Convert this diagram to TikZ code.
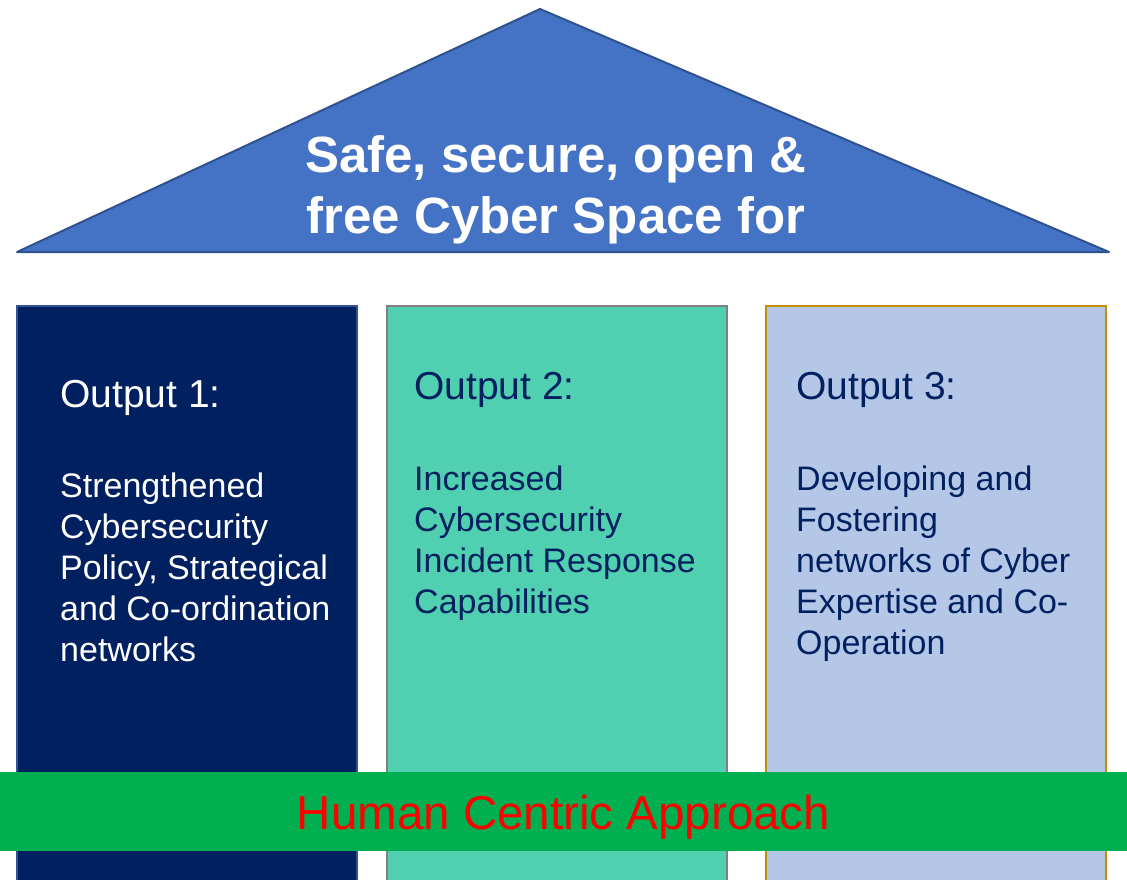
\documentclass[tikz,border=0pt]{standalone}
\usepackage{fontspec}
\setmainfont{Liberation Sans}
\definecolor{roofblue}{HTML}{4472C4}
\definecolor{roofedge}{HTML}{2F528F}
\definecolor{navy}{HTML}{002060}
\definecolor{navyedge}{HTML}{2F5597}
\definecolor{teal}{HTML}{50D0B0}
\definecolor{tealedge}{HTML}{7F7F7F}
\definecolor{lightblue}{HTML}{B4C7E7}
\definecolor{goldedge}{HTML}{BF9000}
\definecolor{barGreen}{HTML}{00B050}
\definecolor{barRed}{HTML}{FF0000}
\begin{document}
\begin{tikzpicture}[x=1pt,y=-1pt,
  pillar/.style={draw, line width=2pt, anchor=north west, inner sep=0pt,
    minimum width=340pt, minimum height=600pt},
  heading/.style={anchor=base west, inner sep=0pt,
    font=\fontsize{39}{45}\selectfont},
  body/.style={anchor=base west, inner sep=0pt},
]
\useasboundingbox (0,0) rectangle (1127,880);
\clip (0,0) rectangle (1127,880);

% roof
\draw[fill=roofblue, draw=roofedge, line width=2pt, line join=round]
  (540,9) -- (1109,252) -- (17,252) -- cycle;
\node[anchor=base, inner sep=0pt, text=white] (roof) at (556,172)
  {\parbox[t]{700pt}{\centering\fontsize{51}{61}\selectfont\bfseries
   Safe, secure, open \&\\free Cyber Space for}};

% pillars
\node[pillar, fill=navy, draw=navyedge] (p1) at (16,305) {};
\node[pillar, fill=teal, draw=tealedge] (p2) at (386,305) {};
\node[pillar, fill=lightblue, draw=goldedge] (p3) at (765,305) {};

% pillar texts
\node[heading, text=white] (h1) at (60,407) {Output 1:};
\node[body, text=white] (t1) at (60,497)
  {\parbox[t]{300pt}{\fontsize{34}{41}\selectfont\raggedright
   Strengthened\\Cybersecurity\\Policy, Strategical\\and Co-ordination\\networks}};

\node[heading, text=navy] (h2) at (414,399) {Output 2:};
\node[body, text=navy] (t2) at (414,490)
  {\parbox[t]{300pt}{\fontsize{34}{41}\selectfont\raggedright
   Increased\\Cybersecurity\\Incident Response\\Capabilities}};

\node[heading, text=navy] (h3) at (796,399) {Output 3:};
\node[body, text=navy] (t3) at (796,490)
  {\parbox[t]{300pt}{\fontsize{34}{41}\selectfont\raggedright
   Developing and\\Fostering\\networks of Cyber\\Expertise and Co-\\Operation}};

% foundation bar
\node[fill=barGreen, anchor=north west, inner sep=0pt,
  minimum width=1127pt, minimum height=79pt] (bar) at (0,772) {};
\node[anchor=base, inner sep=0pt, text=barRed,
  font=\fontsize{47.5}{55}\selectfont] (barText) at (563.5,829)
  {Human Centric Approach};
\end{tikzpicture}
\end{document}
